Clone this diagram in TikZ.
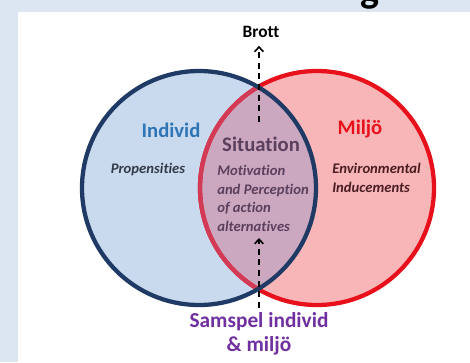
\documentclass[tikz,border=0pt]{standalone}
\usepackage{fontspec}
\setmainfont{Carlito}[Ligatures=NoCommon]
\usetikzlibrary{arrows.meta}
\definecolor{bandblue}{HTML}{DCE6F1}
\definecolor{indfill}{HTML}{C9DAEE}
\definecolor{indline}{HTML}{1F3A64}
\definecolor{indtext}{HTML}{2E75B6}
\definecolor{miljofill}{HTML}{F9B6B9}
\definecolor{miljoline}{HTML}{E8101A}
\definecolor{miljoinner}{HTML}{D23A55}
\definecolor{lensfill}{HTML}{CBA8BF}
\definecolor{sittext}{HTML}{5B3F5E}
\definecolor{proptext}{HTML}{343B48}
\definecolor{envtext}{HTML}{4A1E22}
\definecolor{samspeltext}{HTML}{7030A0}
\def\rad{87.75pt}
\tikzset{
  big/.style={font=\bfseries\fontsize{15.5}{18}\selectfont},
  small/.style={font=\bfseries\itshape\fontsize{11}{13.9}\selectfont},
  dasharrow/.style={line width=1.5pt, dash pattern=on 4.5pt off 3.5pt,
    -{Straight Barb[length=3.5pt,width=6.5pt,line width=1.2pt]}}
}
\begin{document}
\begin{tikzpicture}[x=0.75pt,y=-0.75pt]
		%%%%% START %%%%%
		
		\fill[bandblue] (0,0) rectangle (470,362);
		\fill[white] (18,12) rectangle (470,362);
		\begin{scope}
			\clip (0,0) rectangle (470,12);
			\node[font=\bfseries\fontsize{30}{30}\selectfont, anchor=base] (heading) at (370,2) {g};
		\end{scope}
		
		\fill[miljofill] (317,188) circle (\rad);
		\fill[indfill] (199,188) circle (\rad);
		\begin{scope}
			\clip (317,188) circle (\rad);
			\fill[lensfill] (199,188) circle (\rad);
		\end{scope}
		\draw[miljoline, line width=3.2pt] (317,188) circle (\rad);
		\begin{scope}
			\clip (199,188) circle (\rad);
			\draw[miljoinner, line width=3.2pt] (317,188) circle (\rad);
		\end{scope}
		\draw[indline, line width=3.2pt] (199,188) circle (\rad);
		
		\node[big, text=indtext, anchor=base] (individ) at (171,137) {Individ};
		\node[big, text=miljoline, anchor=base] (miljo) at (360,134) {Miljö};
		\node[big, text=sittext, anchor=base] (situation) at (261,151) {Situation};
		
		\node[small, text=proptext, anchor=base] (prop) at (148,173) {Propensities};
		\node[small, text=sittext, align=left, anchor=north west, inner sep=0pt] (motiv) at (217,165)
			{Motivation\\and Perception\\of action\\alternatives};
		\node[small, text=envtext, align=left, anchor=north west, inner sep=0pt] (env) at (332,163)
			{Environmental\\Inducements};
		
		\node[font=\bfseries\fontsize{13}{15}\selectfont, anchor=base] (brott) at (261,37) {Brott};
		\node[font=\bfseries\fontsize{16}{18}\selectfont, text=samspeltext, align=center] (samspel) at (259,334)
			{Samspel individ\\\& miljö};
		
		\coordinate (topstart) at (259,122);
		\coordinate (bottip) at (259,238);
		\draw[dasharrow, shorten >=3pt] (topstart) -- (topstart |- brott.south);
		\draw[dasharrow] (samspel.north -| bottip) -- (bottip);
		
		%%%%% END %%%%%
\end{tikzpicture}
\end{document}
